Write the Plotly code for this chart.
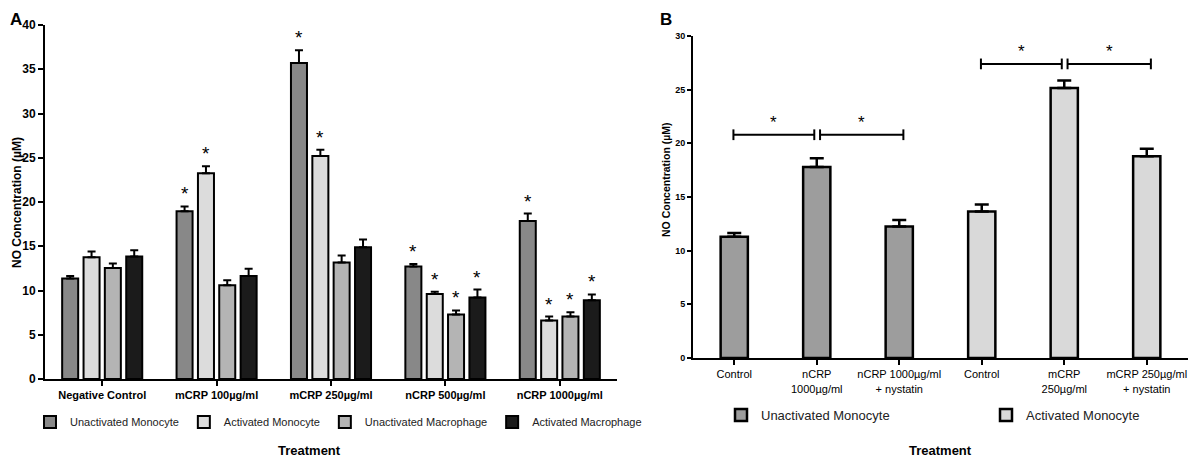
import plotly.graph_objects as go

# ---- panel A data ----
a_categories = ["Negative Control", "mCRP 100µg/ml", "mCRP 250µg/ml", "nCRP 500µg/ml", "nCRP 1000µg/ml"]
a_series = ["Unactivated Monocyte", "Activated Monocyte", "Unactivated Macrophage", "Activated Macrophage"]
a_unact_mono = [11.35, 18.95, 35.7, 12.7, 17.85]
a_act_mono = [13.75, 23.25, 25.2, 9.6, 6.6]
a_unact_macro = [12.55, 10.6, 13.15, 7.3, 7.05]
a_act_macro = [13.85, 11.65, 14.9, 9.2, 8.9]
a_unact_mono_err = [0.3, 0.55, 1.45, 0.3, 0.85]
a_act_mono_err = [0.65, 0.8, 0.7, 0.25, 0.45]
a_unact_macro_err = [0.5, 0.55, 0.8, 0.45, 0.5]
a_act_macro_err = [0.7, 0.8, 0.85, 0.9, 0.65]
a_unact_mono_sig = [False, True, True, True, True]
a_act_mono_sig = [False, True, True, True, True]
a_unact_macro_sig = [False, False, False, True, True]
a_act_macro_sig = [False, False, False, True, True]

# ---- panel B data ----
b_categories = ["Control", "nCRP<br>1000µg/ml", "nCRP 1000µg/ml<br>+ nystatin",
                "Control", "mCRP<br>250µg/ml", "mCRP 250µg/ml<br>+ nystatin"]
b_series = ["Unactivated Monocyte", "Activated Monocyte"]
b_unact_idx = [0, 1, 2]
b_unact_vals = [11.3, 17.8, 12.25]
b_unact_err = [0.35, 0.8, 0.6]
b_act_idx = [3, 4, 5]
b_act_vals = [13.65, 25.15, 18.8]
b_act_err = [0.65, 0.7, 0.7]
b_pairs = [(0, 1), (1, 2), (3, 4), (4, 5)]
b_pair_y = [20.8, 20.8, 27.4, 27.4]

# the page body has an 8px margin, so the figure is drawn 8px in from the corner
PAGE_PAD = 8
W, H = 1196 - PAGE_PAD, 459 - PAGE_PAD
A_COLORS = ["#888888", "#dcdcdc", "#b4b4b4", "#1b1b1b"]
B_COLORS = ["#9d9d9d", "#d9d9d9"]
FONT = "Liberation Sans, Arial, sans-serif"


def px_x(p):
    return (p - PAGE_PAD) / W


def px_y(p):
    return 1 - (p - PAGE_PAD) / H


fig = go.Figure()

a_vals = [a_unact_mono, a_act_mono, a_unact_macro, a_act_macro]
a_errs = [a_unact_mono_err, a_act_mono_err, a_unact_macro_err, a_act_macro_err]
a_sigs = [a_unact_mono_sig, a_act_mono_sig, a_unact_macro_sig, a_act_macro_sig]
a_centers = [-0.28, -0.093, 0.093, 0.28]
bar_w = 0.14
annotations = []

for k, name in enumerate(a_series):
    xs = list(range(len(a_categories)))
    fig.add_trace(go.Bar(
        x=xs, y=a_vals[k], name=name,
        width=bar_w, offset=a_centers[k] - bar_w / 2,
        marker=dict(color=A_COLORS[k], line=dict(color="black", width=2)),
        error_y=dict(type="data", array=a_errs[k], arrayminus=[0] * len(xs),
                     symmetric=False, color="black", thickness=2, width=4),
        xaxis="x", yaxis="y", legend="legend",
    ))
    for i, sig in enumerate(a_sigs[k]):
        if sig:
            annotations.append(dict(
                x=i + a_centers[k], y=a_vals[k][i] + a_errs[k][i], xref="x", yref="y",
                text="*", showarrow=False, yanchor="bottom", xanchor="center",
                font=dict(family=FONT, size=19, color="black"),
            ))

for name, idx, vals, err, col in [
    (b_series[0], b_unact_idx, b_unact_vals, b_unact_err, B_COLORS[0]),
    (b_series[1], b_act_idx, b_act_vals, b_act_err, B_COLORS[1]),
]:
    fig.add_trace(go.Bar(
        x=idx, y=vals, name=name, width=0.33,
        marker=dict(color=col, line=dict(color="black", width=2.5)),
        error_y=dict(type="data", array=err, arrayminus=[0] * len(idx),
                     symmetric=False, color="black", thickness=2.5, width=7),
        xaxis="x2", yaxis="y2", legend="legend2",
    ))

shapes = []
for n, ((a, b), yv) in enumerate(zip(b_pairs, b_pair_y)):
    left = n % 2 == 0
    x0 = a - 0.01 if left else a + 0.04
    x1 = b - 0.03 if left else b + 0.05
    line = dict(color="black", width=2)
    shapes.append(dict(type="line", xref="x2", yref="y2", x0=x0, x1=x1, y0=yv, y1=yv, line=line))
    for xe in (x0, x1):
        shapes.append(dict(type="line", xref="x2", yref="y2", x0=xe, x1=xe,
                           y0=yv - 0.5, y1=yv + 0.5, line=line))
    annotations.append(dict(
        x=(x0 + x1) / 2, y=yv, xref="x2", yref="y2", text="*", showarrow=False,
        xanchor="center", yanchor="bottom", yshift=1,
        font=dict(family=FONT, size=17, color="black"),
    ))

# panel letters, axis titles
annotations += [
    dict(x=px_x(8), y=px_y(8), xref="paper", yref="paper", text="<b>A</b>", showarrow=False,
         xanchor="left", yanchor="top", font=dict(family=FONT, size=17, color="black")),
    dict(x=px_x(658), y=px_y(8), xref="paper", yref="paper", text="<b>B</b>", showarrow=False,
         xanchor="left", yanchor="top", font=dict(family=FONT, size=17, color="black")),
    dict(x=px_x(17), y=px_y(203), xref="paper", yref="paper", text="<b>NO Concentration (µM)</b>",
         textangle=-90, showarrow=False, xanchor="center", yanchor="middle",
         font=dict(family=FONT, size=12, color="black")),
    dict(x=px_x(666), y=px_y(180), xref="paper", yref="paper", text="<b>NO Concentration (µM)</b>",
         textangle=-90, showarrow=False, xanchor="center", yanchor="middle",
         font=dict(family=FONT, size=10.5, color="black")),
    dict(x=px_x(309), y=px_y(450), xref="paper", yref="paper", text="<b>Treatment</b>",
         showarrow=False, xanchor="center", yanchor="middle",
         font=dict(family=FONT, size=13, color="black")),
    dict(x=px_x(940), y=px_y(450), xref="paper", yref="paper", text="<b>Treatment</b>",
         showarrow=False, xanchor="center", yanchor="middle",
         font=dict(family=FONT, size=13, color="black")),
]

axis_common = dict(showline=True, linecolor="black", linewidth=2, ticks="outside",
                   tickcolor="black", tickwidth=2, showgrid=False, zeroline=False)

fig.update_layout(
    width=W, height=H,
    margin=dict(l=0, r=0, t=0, b=0, autoexpand=False),
    paper_bgcolor="white", plot_bgcolor="white",
    barmode="overlay",
    font=dict(family=FONT, color="black"),
    xaxis=dict(domain=[px_x(45), px_x(617)], range=[-0.5, 4.5],
               tickvals=list(range(len(a_categories))), ticktext=a_categories,
               ticklen=5, tickfont=dict(size=11, weight="bold"), anchor="y", **axis_common),
    yaxis=dict(domain=[px_y(379), px_y(25)], range=[0, 40], dtick=5, ticklen=5,
               tickfont=dict(size=12, weight="bold"), anchor="x", **axis_common),
    xaxis2=dict(domain=[px_x(693), px_x(1188)], range=[-0.5, 5.5],
                tickvals=list(range(len(b_categories))), ticktext=b_categories,
                ticklen=5, tickfont=dict(size=11), anchor="y2", **axis_common),
    yaxis2=dict(domain=[px_y(358), px_y(36)], range=[0, 30], dtick=5, ticklen=4,
                tickfont=dict(size=9, weight="bold"), anchor="x2", **axis_common),
    legend=dict(orientation="h", x=px_x(30), y=px_y(422), xanchor="left", yanchor="middle",
                font=dict(size=11, color="#222"), bgcolor="rgba(0,0,0,0)", itemwidth=30),
    legend2=dict(orientation="h", x=px_x(721), y=px_y(415), xanchor="left", yanchor="middle",
                 font=dict(size=13, color="#222"), bgcolor="rgba(0,0,0,0)",
                 entrywidth=220, itemwidth=30),
    annotations=annotations,
    shapes=shapes,
)

fig.write_html("out.html")
